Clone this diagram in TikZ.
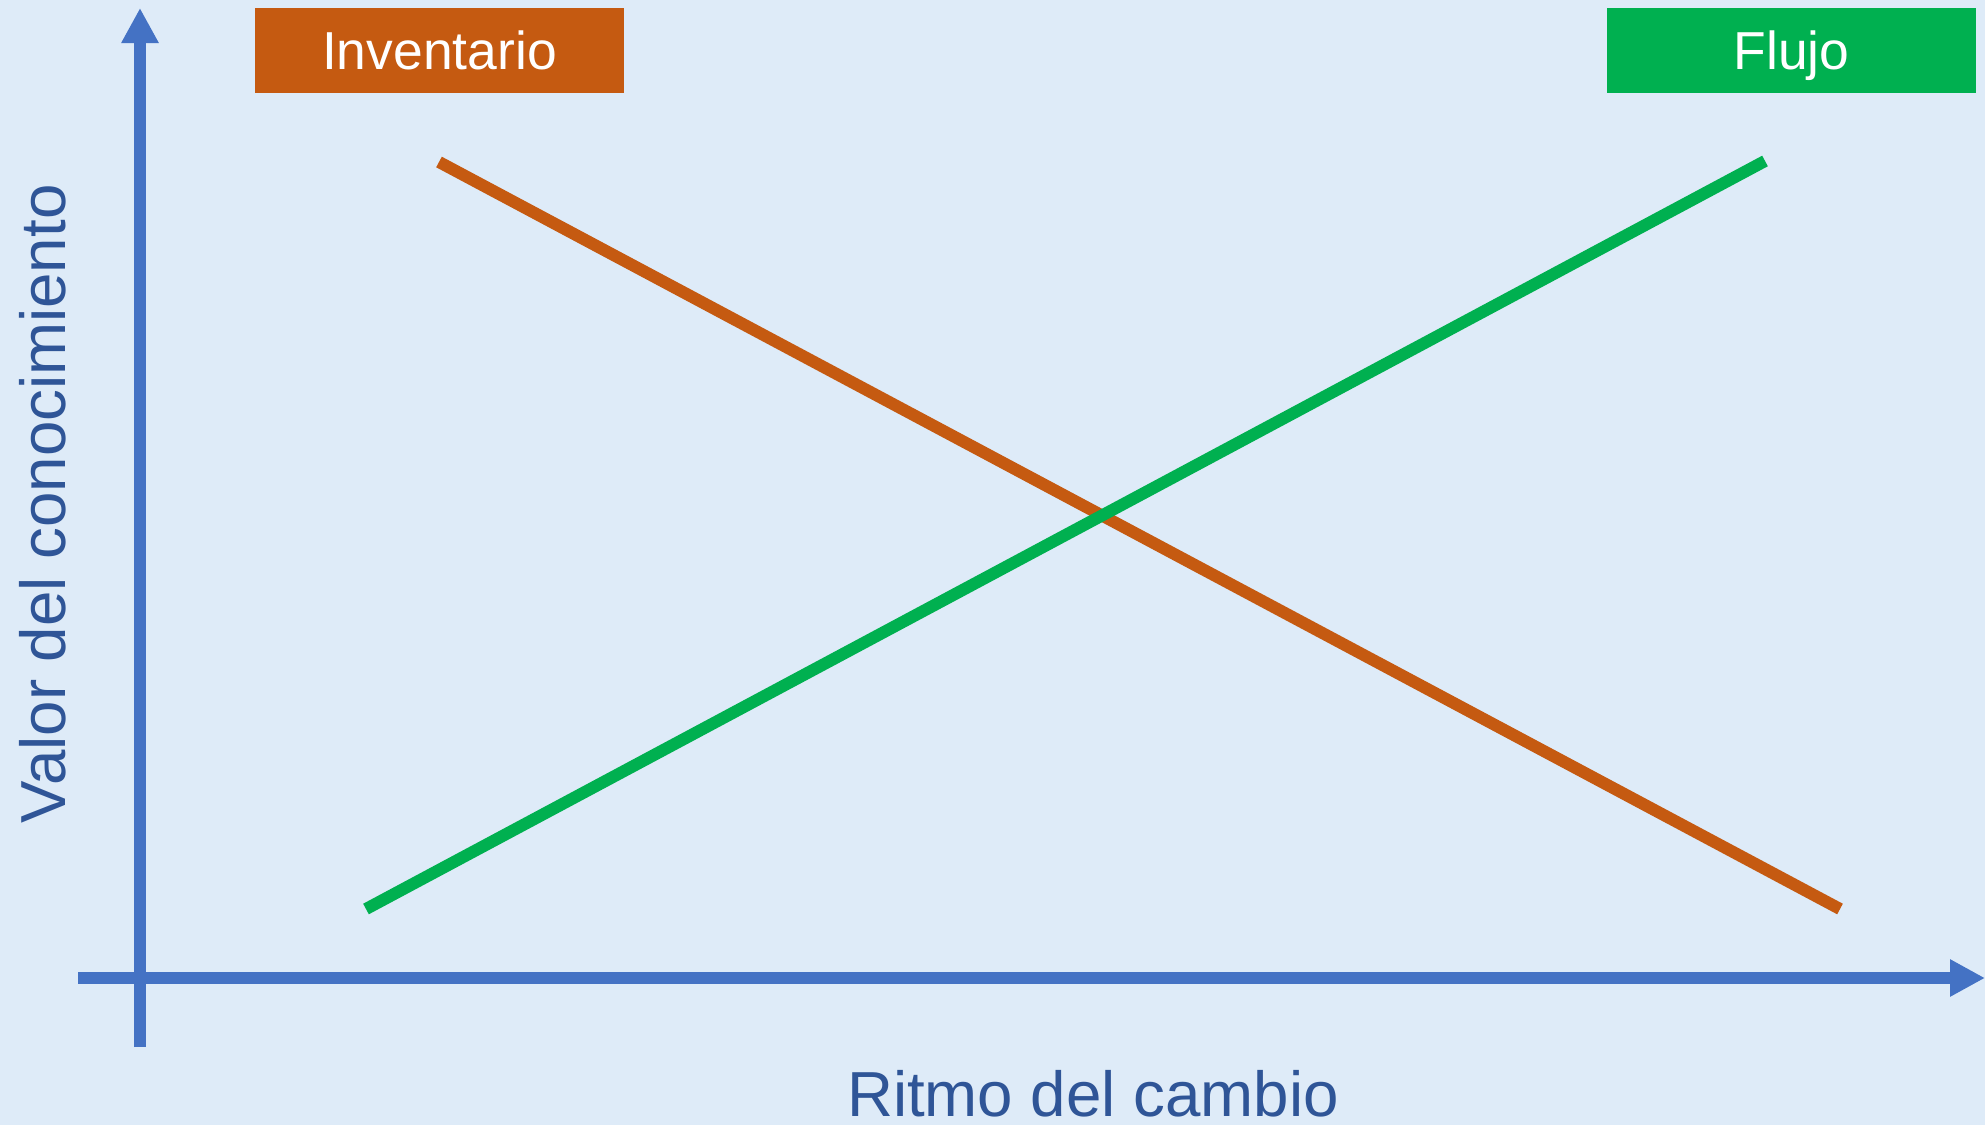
\documentclass[tikz,border=0pt]{standalone}
\usepackage{fontspec}
\setmainfont{Liberation Sans}
\usetikzlibrary{arrows.meta}
\definecolor{fondo}{HTML}{DEEBF8}
\definecolor{eje}{HTML}{4472C4}
\definecolor{rotulo}{HTML}{2F5597}
\definecolor{naranja}{HTML}{C55A11}
\definecolor{verde}{HTML}{00B050}
\tikzset{
  axis/.style={eje, line width=1.2mm, -{Triangle[width=3.5mm,length=3.5mm]}},
  curva/.style={line width=1.2mm},
  caja/.style={minimum width=3.69cm, minimum height=0.85cm, inner sep=0pt,
    text height=10.9pt, text depth=0pt,
    text=white, font=\fontsize{15.2}{18}\selectfont},
  etiq/.style={text=rotulo, font=\fontsize{18.1}{22}\selectfont, inner sep=0pt}
}
\begin{document}
\begin{tikzpicture}[x=0.01cm, y=-0.01cm]
      \fill[fondo] (0,0) rectangle (1985,1125);
      \useasboundingbox (0,0) rectangle (1985,1125);
      % ejes
      \coordinate (o1) at (140,1047);
      \coordinate (yt) at (140,8);
      \coordinate (o2) at (78,978);
      \coordinate (xt) at (1985,978);
      \draw[axis] (o1) -- (yt);
      \draw[axis] (o2) -- (xt);
      % rectas
      \coordinate (i0) at (439,162);
      \coordinate (i1) at (1840,909);
      \coordinate (f0) at (366,909);
      \coordinate (f1) at (1765,161);
      \begin{scope}[curva]
        \draw[naranja] (i0) -- (i1);
        \draw[verde] (f0) -- (f1);
      \end{scope}
      % rotulos
      \node[caja, fill=naranja] (inv) at (439.5,50.5) {Inventario};
      \node[caja, fill=verde] (flu) at (1791.5,50.5) {Flujo};
      \node[etiq, anchor=base] (xlab) at (1093,1116) {Ritmo del cambio};
      \node[etiq, anchor=base, rotate=90] (ylab) at (65,504) {Valor del conocimiento};
    \end{tikzpicture}
\end{document}
